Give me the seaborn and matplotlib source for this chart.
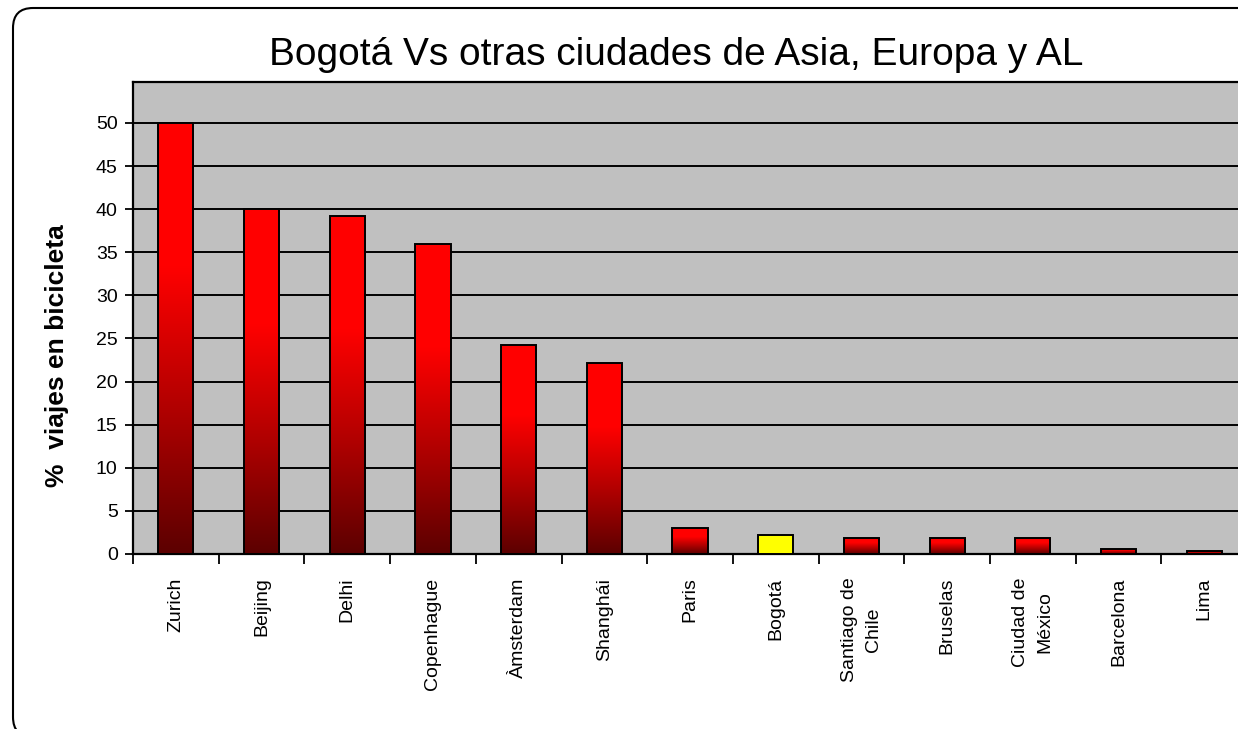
import numpy as np
import pandas as pd
import matplotlib
matplotlib.use("Agg")
import matplotlib.pyplot as plt
import seaborn as sns
from matplotlib.colors import LinearSegmentedColormap
from matplotlib.patches import FancyBboxPatch
from matplotlib.transforms import IdentityTransform

# --- DATA ---
ciudades = ["Zurich", "Beijing", "Delhi", "Copenhague", "Àmsterdam", "Shanghái",
            "Paris", "Bogotá", "Santiago de\nChile", "Bruselas", "Ciudad de\nMéxico",
            "Barcelona", "Lima"]
viajes_bici = [50, 40, 39.2, 36, 24.2, 22.1, 3.0, 2.2, 1.9, 1.9, 1.9, 0.6, 0.4]
resaltada = "Bogotá"

titulo = "Bogotá Vs otras ciudades de Asia, Europa y AL"
ylabel = "%  viajes en bicicleta"
yticks = list(range(0, 55, 5))


def generate_graph():
    df = pd.DataFrame({"ciudad": ciudades, "pct": viajes_bici})

    sns.set_style("white")
    plt.rcParams["font.family"] = ["Liberation Sans", "DejaVu Sans"]
    for key in ["text.color", "axes.labelcolor", "xtick.color", "ytick.color"]:
        plt.rcParams[key] = "black"

    fig = plt.figure(figsize=(12.38, 7.29), dpi=100)
    ax = fig.add_axes([133 / 1238, 1 - 554 / 729, 1 - 133 / 1238, (554 - 82) / 729])

    sns.barplot(data=df, x="ciudad", y="pct", ax=ax, color="red", width=0.41,
                edgecolor="black", linewidth=1.4, zorder=3)

    # Excel-style vertical gradient: bright red on top, dark red at the bottom
    cmap = LinearSegmentedColormap.from_list("rojo", ["#5c0000", "#b00000", "#ff0000", "#ff0000"])
    grad = np.linspace(0, 1, 256).reshape(-1, 1)
    for patch, ciudad in zip(ax.patches, ciudades):
        if ciudad == resaltada:
            patch.set_facecolor("#ffff00")
            continue
        x0, y0 = patch.get_x(), patch.get_y()
        w, h = patch.get_width(), patch.get_height()
        patch.set_facecolor("none")
        im = ax.imshow(grad, cmap=cmap, aspect="auto", origin="lower",
                       extent=[x0, x0 + w, y0, y0 + h], zorder=2.9)
        im.set_clip_path(patch)

    ax.set_facecolor("#c0c0c0")
    ax.set_xlim(-0.5, -0.5 + (1238 - 133) / 85.7)
    ax.set_ylim(0, 54.75)
    ax.set_yticks(yticks)
    ax.yaxis.grid(True, color="black", linewidth=1.4, zorder=1)
    ax.set_axisbelow(True)

    # ticks between categories on the x axis
    ax.set_xticks(np.arange(len(ciudades)))
    ax.set_xticklabels(ciudades, rotation=90, va="top", ha="center",
                       fontsize=14, linespacing=1.6)
    ax.set_xticks(np.arange(len(ciudades)) - 0.5, minor=True)
    ax.tick_params(axis="x", which="major", length=0, pad=17)
    ax.tick_params(axis="x", which="minor", length=7, width=1.3, color="black", direction="out")
    ax.tick_params(axis="y", length=6, width=1.3, color="black", direction="out",
                   labelsize=14, pad=5)
    ax.yaxis.set_tick_params(left=True)
    ax.xaxis.set_tick_params(which="minor", bottom=True)

    for side in ["left", "bottom", "top"]:
        ax.spines[side].set_visible(True)
        ax.spines[side].set_color("black")
        ax.spines[side].set_linewidth(1.6)
    ax.spines["right"].set_visible(False)

    ax.set_xlabel("")
    ax.set_ylabel(ylabel, fontsize=19, fontweight="bold")
    ax.yaxis.set_label_coords(-64 / 1105, 0.42)

    fig.text(676 / 1238, 1 - 55 / 729, titulo, ha="center", va="center", fontsize=28)

    # rounded chart-area border
    borde = FancyBboxPatch((13, -8), 1400, 729, boxstyle="round,pad=0,rounding_size=20",
                           transform=IdentityTransform(), facecolor="none",
                           edgecolor="black", linewidth=1.5)
    fig.add_artist(borde)

    fig.savefig("out.png", dpi=100)


if __name__ == "__main__":
    generate_graph()
